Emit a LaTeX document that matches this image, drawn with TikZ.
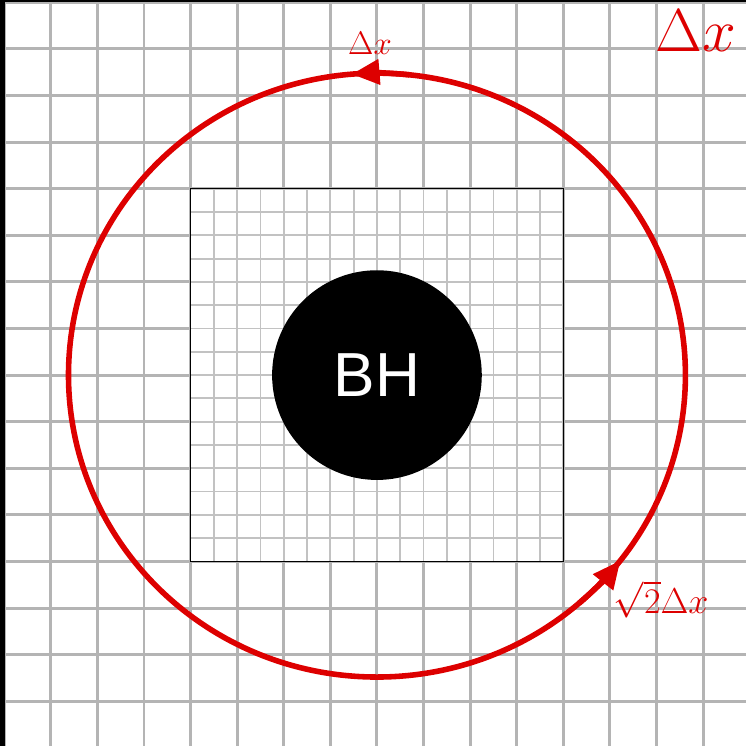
\RequirePackage{fix-cm}
\documentclass[tikz,border=0pt]{standalone}
\usepackage{fontspec}
\newfontfamily\bhfont{Liberation Sans}
\usetikzlibrary{arrows.meta}
\definecolor{gridGray}{HTML}{B4B4B4}
\definecolor{fineGray}{HTML}{C2C2C2}
\definecolor{loopRed}{HTML}{DD0000}

\begin{document}
\begin{tikzpicture}[
    coarse/.style={draw=gridGray,line width=1.8pt},
    fine/.style={draw=fineGray,line width=1.1pt},
    loop/.style={draw=loopRed,line width=3.4pt},
    looptip/.style={-{Triangle[length=17pt,width=15pt]}},
    redlabel/.style={text=loopRed,inner sep=0pt},
  ]
  \useasboundingbox (-8.09,-7.96) rectangle (7.91,8.05);

  % coarse mesh
  \draw[coarse] (-8.09,-7.96) grid (7.91,8.05);
  \fill[black] (-8.09,-7.96) rectangle (-7.98,8.05);
  \fill[black] (-8.09,8.01) rectangle (7.91,8.05);

  % refined patch
  \fill[white] (-4,-4) rectangle (4,4);
  \draw[fine] (-4,-4) grid[step=0.5] (4,4);
  \draw[black,line width=0.9pt] (-4,-4) rectangle (4,4);

  % black hole
  \node[circle,fill=black,minimum size=4.5cm,inner sep=0pt,
        text=white,font=\bhfont\fontsize{38}{40}\selectfont] (bh) at (0,0) {BH};

  % red loop
  \draw[loop] (0,0) ellipse[x radius=6.62,y radius=6.48];
  \draw[loop,looptip] (84:6.62 and 6.48) arc[start angle=84,end angle=94.7,x radius=6.62,y radius=6.48];
  \draw[loop,looptip] (-49:6.62 and 6.48) arc[start angle=-49,end angle=-37.9,x radius=6.62,y radius=6.48];

  % labels
  \node[redlabel,font=\fontsize{20}{22}\selectfont] (dxtop) at (-0.15,7.12) {$\Delta x$};
  \node[redlabel,font=\fontsize{22}{24}\selectfont] (dxdiag) at (6.1,-4.82) {$\sqrt{2}\Delta x$};
  \node[redlabel,font=\fontsize{37}{40}\selectfont] (dxcell) at (6.84,7.38) {$\Delta x$};
\end{tikzpicture}
\end{document}
